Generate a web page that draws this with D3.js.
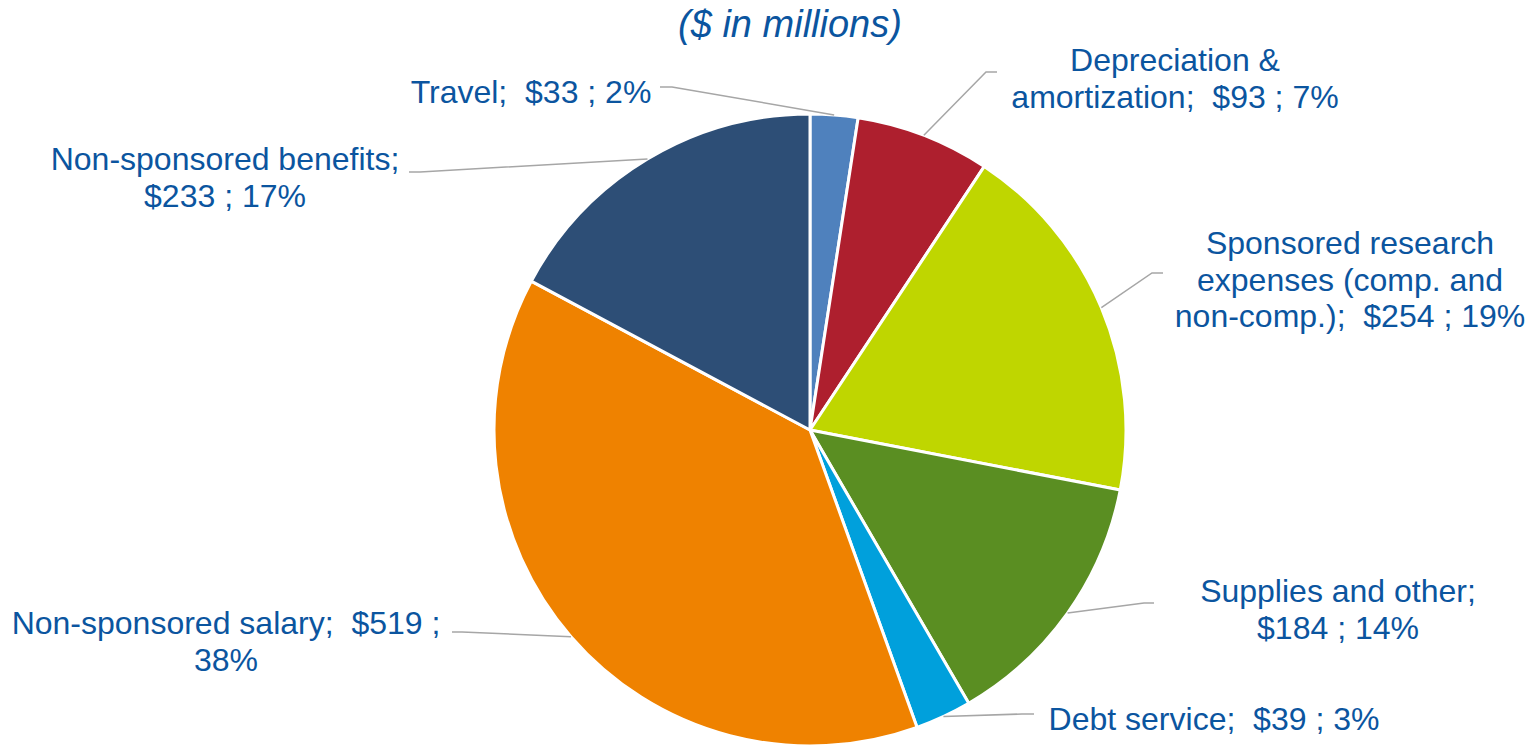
<!DOCTYPE html>
<html><head><meta charset="utf-8">
<script src="https://cdn.jsdelivr.net/npm/d3@7"></script>
<style>
html,body{margin:0;padding:0;background:#fff;}
svg{display:block;}
text{font-family:"Liberation Sans",Arial,sans-serif;fill:#0b559f;white-space:pre;}
</style></head>
<body>
<svg id="chart" width="1538" height="751"></svg>
<script>
// Data
const categories = ["Travel","Depreciation & amortization","Sponsored research expenses (comp. and non-comp.)","Supplies and other","Debt service","Non-sponsored salary","Non-sponsored benefits"];
const values = [33, 93, 254, 184, 39, 519, 233];
const percents = ["2%","7%","19%","14%","3%","38%","17%"];
const colors = ["#4f81bd","#ae1f2e","#bfd600","#5a8e22","#00a0dc","#ef8200","#2d4e76"];
const labelLines = [
  ["Travel;  $33 ; 2%"],
  ["Depreciation &","amortization;  $93 ; 7%"],
  ["Sponsored research","expenses (comp. and","non-comp.);  $254 ; 19%"],
  ["Supplies and other;","$184 ; 14%"],
  ["Debt service;  $39 ; 3%"],
  ["Non-sponsored salary;  $519 ;","38%"],
  ["Non-sponsored benefits;","$233 ; 17%"]
];
const title = "($ in millions)";

// Layout (label anchor, first baseline, leader start & elbow)
const layout = [
  {x:531, y:103, lx:660, ly:87, ex:672, ey:87},
  {x:1175, y:71, lx:997, ly:72, ex:986, ey:72},
  {x:1350, y:254, lx:1163, ly:273, ex:1152, ey:273},
  {x:1338, y:602, lx:1154, ly:603, ex:1144, ey:603},
  {x:1214, y:730, lx:1034, ly:714, ex:1022, ey:714},
  {x:226, y:634, lx:452, ly:632, ex:462, ey:632},
  {x:225, y:170, lx:409, ly:172, ex:420, ey:172}
];

const cx = 810, cy = 430, R = 316, lineH = 36.5;
const svg = d3.select("#chart");

svg.append("text").attr("x", 790).attr("y", 37).attr("text-anchor","middle")
  .style("font-size","38px").style("font-style","italic").text(title);

const data = categories.map((c,i)=>({name:c, value:values[i], i}));
const pie = d3.pie().value(d=>d.value).sort(null);
const arcs = pie(data);
const arc = d3.arc().innerRadius(0).outerRadius(R);

const g = svg.append("g").attr("transform",`translate(${cx},${cy})`);
g.selectAll("path").data(arcs).join("path")
  .attr("d", arc).attr("fill", d=>colors[d.data.i])
  .attr("stroke","#fff").attr("stroke-width",3).attr("stroke-linejoin","round");

// leader lines
arcs.forEach((a,i)=>{
  const mid = (a.startAngle + a.endAngle)/2;
  const px = cx + Math.sin(mid)*R, py = cy - Math.cos(mid)*R;
  const L = layout[i];
  svg.append("polyline")
    .attr("points", `${L.lx},${L.ly} ${L.ex},${L.ey} ${px},${py}`)
    .attr("fill","none").attr("stroke","#a6a6a6").attr("stroke-width",1.5);
});

// labels
labelLines.forEach((lines,i)=>{
  const L = layout[i];
  const t = svg.append("text").attr("text-anchor","middle").style("font-size","32px");
  lines.forEach((s,k)=>{
    t.append("tspan").attr("x", L.x).attr("y", L.y + k*lineH).text(s);
  });
});
</script>
</body></html>
